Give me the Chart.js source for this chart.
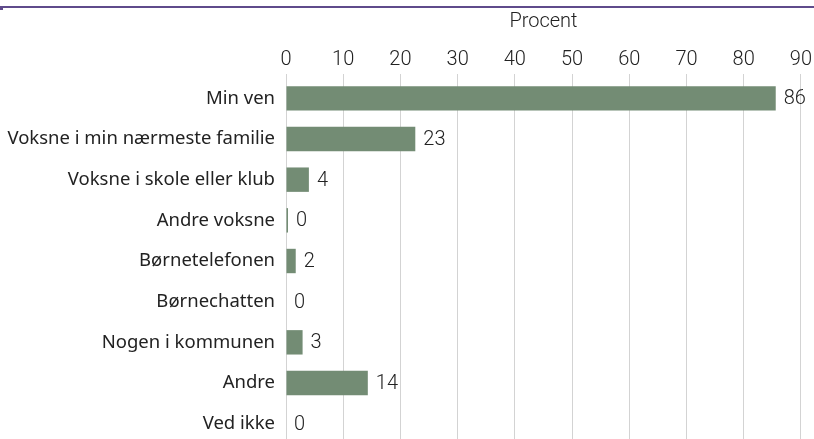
<!DOCTYPE html>
<html><head><meta charset="utf-8">
<script src="https://cdn.jsdelivr.net/npm/chart.js@4/dist/chart.umd.min.js"></script>
<style>
html,body{margin:0;padding:0;background:#fff;overflow:hidden;width:814px;height:439px;}
#topline{position:absolute;left:0;top:6px;width:814px;height:2px;background:#5f4b8b;}
#topmark{position:absolute;left:0;top:8px;width:3px;height:2px;background:#5f4b8b;}
#wrap{position:absolute;left:0;top:0;width:814px;height:444px;}
</style></head>
<body>
<div id="wrap"><canvas id="c" width="814" height="444"></canvas></div>
<div id="topline"></div><div id="topmark"></div>
<script>
const categories = ["Min ven","Voksne i min nærmeste familie","Voksne i skole eller klub","Andre voksne","Børnetelefonen","Børnechatten","Nogen i kommunen","Andre","Ved ikke"];
const values = [85.6, 22.6, 4.0, 0.35, 1.7, 0, 2.9, 14.3, 0];
const valueLabels = ["86","23","4","0","2","0","3","14","0"];
const xTicks = [0,10,20,30,40,50,60,70,80,90];

const NUMFONT = "Roboto";
const LABFONT = "Noto Sans";
const TEXT = "#222";

const labelPlugin = {
  id: 'valueLabels',
  afterDatasetsDraw(chart) {
    const ctx = chart.ctx;
    const meta = chart.getDatasetMeta(0);
    ctx.save();
    ctx.font = "300 20px " + NUMFONT;
    ctx.fillStyle = TEXT;
    ctx.textBaseline = "middle";
    ctx.textAlign = "left";
    meta.data.forEach((bar, i) => {
      const x = Math.max(bar.x, bar.base) + 8;
      ctx.fillText(valueLabels[i], x, bar.y + 1);
    });
    ctx.restore();
  }
};

new Chart(document.getElementById('c'), {
  type: 'bar',
  data: {
    labels: categories,
    datasets: [{
      data: values,
      backgroundColor: '#738c74',
      borderWidth: 0,
      barPercentage: 0.6,
      categoryPercentage: 1.0
    }]
  },
  options: {
    indexAxis: 'y',
    responsive: false,
    animation: false,
    layout: { padding: { top: 10, right: 12, left: 0, bottom: 0 } },
    plugins: { legend: { display: false }, tooltip: { enabled: false } },
    scales: {
      x: {
        position: 'top',
        min: 0, max: 90,
        afterBuildTicks(scale) { scale.ticks = xTicks.map(v => ({ value: v })); },
        ticks: { color: TEXT, font: { family: NUMFONT, size: 20, weight: 300 }, padding: 2 },
        grid: { color: '#d3d3d3', lineWidth: 1, drawTicks: true, tickLength: 4, tickColor: '#d3d3d3' },
        border: { display: false },
        title: { display: true, text: 'Procent', color: TEXT, font: { family: NUMFONT, size: 20, weight: 300 }, padding: { top: 0, bottom: 4 } },
        afterFit(scale) { scale.height = 68; }
      },
      y: {
        ticks: { color: TEXT, font: { family: LABFONT, size: 18.5 }, padding: 11 },
        grid: { display: false, drawTicks: false },
        border: { display: true, color: '#d3d3d3' },
        afterFit(scale) { scale.width = 286; scale.paddingTop = 0; scale.paddingBottom = 0; }
      }
    }
  },
  plugins: [labelPlugin]
});
</script>
</body></html>
